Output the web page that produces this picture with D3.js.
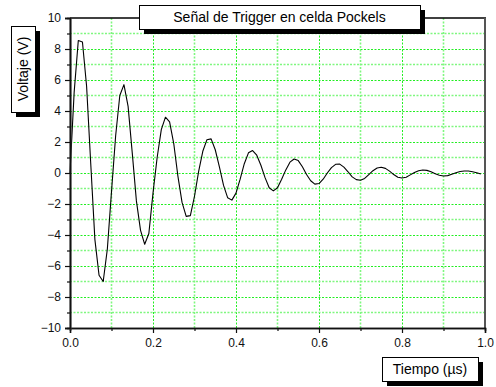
<!DOCTYPE html>
<html>
<head>
<meta charset="utf-8">
<script src="https://cdn.jsdelivr.net/npm/d3@7"></script>
<style>
  html, body { margin: 0; padding: 0; background: #fff; }
  svg { display: block; font-family: "Liberation Sans", Arial, sans-serif; }
</style>
</head>
<body>
<svg id="chart" width="496" height="387"></svg>
<script>
// Trigger signal sampled every 0.01 µs
const timeUs = d3.range(100).map(i => +(i * 0.01).toFixed(2));
const voltage = [
  0.0, 5.2, 8.55, 8.45, 5.6, 0.6, -4.3, -6.6, -7.0, -4.9,
  -1.2, 2.4, 5.0, 5.7, 4.3, 1.3, -1.8, -3.7, -4.6, -3.9,
  -1.3, 1.0, 2.8, 3.6, 3.3, 1.9, -0.2, -1.9, -2.8, -2.75,
  -1.5, 0.1, 1.4, 2.15, 2.2, 1.5, 0.4, -0.8, -1.6, -1.75,
  -1.3, -0.4, 0.6, 1.3, 1.45, 1.15, 0.5, -0.3, -0.95, -1.15,
  -0.95, -0.4, 0.2, 0.7, 0.9, 0.8, 0.4, -0.1, -0.5, -0.72,
  -0.68, -0.4, 0.0, 0.35, 0.56, 0.57, 0.38, 0.08, -0.25, -0.43,
  -0.47, -0.35, -0.1, 0.15, 0.32, 0.37, 0.3, 0.12, -0.1, -0.27,
  -0.32, -0.27, -0.12, 0.03, 0.15, 0.19, 0.17, 0.08, -0.05, -0.15,
  -0.19, -0.17, -0.08, 0.02, 0.1, 0.13, 0.13, 0.08, 0.02, -0.06
];
const xTicks = [0.0, 0.2, 0.4, 0.6, 0.8, 1.0];
const xMinorTicks = [0.1, 0.3, 0.5, 0.7, 0.9];
const yTicks = [-10, -8, -6, -4, -2, 0, 2, 4, 6, 8, 10];
const yMinorTicks = [-9, -7, -5, -3, -1, 1, 3, 5, 7, 9];

const titleText = "Señal de Trigger en celda Pockels";
const xLabel = "Tiempo (µs)";
const yLabel = "Voltaje (V)";

const plot = { left: 70, right: 485, top: 18, bottom: 328 };

const svg = d3.select("#chart");
const x = d3.scaleLinear().domain([0, 1]).range([plot.left, plot.right]);
const y = d3.scaleLinear().domain([-10, 10]).range([plot.bottom, plot.top]);

// grid
const grid = svg.append("g");
const green = "#22ee22";
grid.selectAll("line.vmin").data(xMinorTicks).join("line")
  .attr("x1", d => x(d)).attr("x2", d => x(d))
  .attr("y1", plot.top).attr("y2", plot.bottom)
  .attr("stroke", "#7ff77f").attr("stroke-width", 1.6).attr("stroke-dasharray", "2,1.5");
grid.selectAll("line.vmaj").data(xTicks.slice(1, -1)).join("line")
  .attr("x1", d => Math.round(x(d)) + 0.5).attr("x2", d => Math.round(x(d)) + 0.5)
  .attr("y1", plot.top).attr("y2", plot.bottom)
  .attr("stroke", green).attr("stroke-width", 1).attr("stroke-dasharray", "2,1.5");
grid.selectAll("line.hmin").data(yMinorTicks).join("line")
  .attr("x1", plot.left).attr("x2", plot.right)
  .attr("y1", d => y(d)).attr("y2", d => y(d))
  .attr("stroke", "#7ff77f").attr("stroke-width", 1.6).attr("stroke-dasharray", "2,1.5");
grid.selectAll("line.hmaj").data(yTicks.slice(1, -1)).join("line")
  .attr("x1", plot.left).attr("x2", plot.right)
  .attr("y1", d => Math.round(y(d)) + 0.5).attr("y2", d => Math.round(y(d)) + 0.5)
  .attr("stroke", green).attr("stroke-width", 1).attr("stroke-dasharray", "2,1.5");

// signal trace
const line = d3.line().x((d, i) => x(timeUs[i])).y(d => y(d)).curve(d3.curveLinear);
svg.append("path").datum(voltage)
  .attr("d", line).attr("fill", "none")
  .attr("stroke", "#000").attr("stroke-width", 1.1).attr("stroke-linejoin", "round");

// frame: top and right
svg.append("line").attr("x1", plot.left).attr("x2", plot.right + 1)
  .attr("y1", plot.top).attr("y2", plot.top).attr("stroke", "#000").attr("stroke-width", 1.5);
svg.append("line").attr("x1", plot.right).attr("x2", plot.right)
  .attr("y1", plot.top).attr("y2", plot.bottom).attr("stroke", "#555").attr("stroke-width", 2);

// axes
const xAxis = svg.append("g").attr("transform", `translate(0,${plot.bottom})`)
  .call(d3.axisBottom(x).tickValues(xTicks).tickFormat(d3.format(".1f")).tickSize(5).tickPadding(5));
const xAxisMinor = svg.append("g").attr("transform", `translate(0,${plot.bottom})`)
  .call(d3.axisBottom(x).tickValues(xMinorTicks).tickFormat("").tickSize(3));
const yAxis = svg.append("g").attr("transform", `translate(${plot.left},0)`)
  .call(d3.axisLeft(y).tickValues(yTicks).tickFormat(d3.format("d")).tickSize(5).tickPadding(4));
const yAxisMinor = svg.append("g").attr("transform", `translate(${plot.left},0)`)
  .call(d3.axisLeft(y).tickValues(yMinorTicks).tickFormat("").tickSize(3));

[xAxis, xAxisMinor, yAxis, yAxisMinor].forEach(g => {
  g.select(".domain").attr("stroke", "#111").attr("stroke-width", 1.5);
  g.selectAll(".tick line").attr("stroke", "#111").attr("stroke-width", 1.2);
  g.selectAll(".tick text").attr("fill", "#111").style("font-size", "12px")
    .style("font-family", "'Liberation Sans', Arial, sans-serif");
});
yAxis.select(".domain").attr("stroke", "#444").attr("stroke-width", 2);

// label boxes with drop shadow
function labelBox(bx, by, w, h, text, rotate) {
  const g = svg.append("g");
  g.append("rect").attr("x", bx + 5).attr("y", by + 5).attr("width", w).attr("height", h).attr("fill", "#000");
  g.append("rect").attr("x", bx + 0.5).attr("y", by + 0.5).attr("width", w).attr("height", h)
    .attr("fill", "#fff").attr("stroke", "#000").attr("stroke-width", 1);
  const cx = bx + w / 2, cy = by + h / 2;
  g.append("text").attr("x", cx).attr("y", cy)
    .attr("text-anchor", "middle").attr("dominant-baseline", "central")
    .attr("transform", rotate ? `rotate(-90,${cx},${cy})` : null)
    .style("font-size", "14px").attr("fill", "#000").text(text);
}
labelBox(139, 5, 281, 24, titleText, false);
labelBox(11, 26, 24, 86, yLabel, true);
labelBox(382, 357, 96, 24, xLabel, false);
</script>
</body>
</html>
